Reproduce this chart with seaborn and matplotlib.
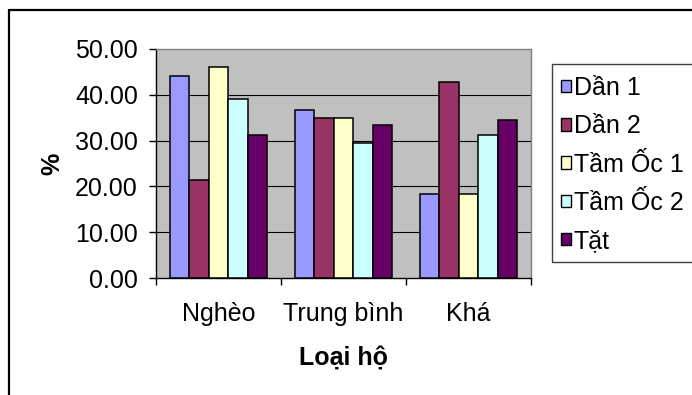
import matplotlib
matplotlib.use("Agg")
import matplotlib.pyplot as plt
from matplotlib.lines import Line2D
from matplotlib.patches import Rectangle
import numpy as np
import pandas as pd
import seaborn as sns

# Household groups and survey shares (%) per group
categories = ["Nghèo", "Trung bình", "Khá"]
series_names = ["Dần 1", "Dần 2", "Tầm Ốc 1", "Tầm Ốc 2", "Tặt"]
dan_1 = [44.1, 36.7, 18.3]
dan_2 = [21.5, 35.0, 42.8]
tam_oc_1 = [46.1, 35.0, 18.3]
tam_oc_2 = [39.1, 29.5, 31.3]
tat = [31.3, 33.3, 34.6]
y_ticks = [0, 10, 20, 30, 40, 50]
colors = ["#9999FF", "#993366", "#FFFFCC", "#CCFFFF", "#660066"]

values = [dan_1, dan_2, tam_oc_1, tam_oc_2, tat]
df = pd.DataFrame(
    [(cat, name, vals[i]) for name, vals in zip(series_names, values)
     for i, cat in enumerate(categories)],
    columns=["Loại hộ", "Giống", "%"],
)

sns.set_theme(style="white")
plt.rcParams["font.family"] = ["Liberation Sans", "DejaVu Sans"]
for key in ["text.color", "axes.labelcolor", "xtick.color", "ytick.color"]:
    plt.rcParams[key] = "black"

FS = 18
W, H = 692, 395
fig = plt.figure(figsize=(W / 100, H / 100), dpi=100)
fig.patch.set_facecolor("white")

# plot area in pixel coordinates
px_left, px_right, px_top, px_bottom = 156, 531, 49, 278
ax = fig.add_axes([px_left / W, 1 - px_bottom / H,
                   (px_right - px_left) / W, (px_bottom - px_top) / H])
ax.set_facecolor("#C0C0C0")

sns.barplot(data=df, x="Loại hộ", y="%", hue="Giống", order=categories,
            hue_order=series_names, palette=colors, width=0.78,
            edgecolor="black", linewidth=1.1, saturation=1, ax=ax,
            legend=False, zorder=3)

ax.set_ylim(y_ticks[0], y_ticks[-1])
ax.set_xlim(-0.5, len(categories) - 0.5)
ax.set_yticks(y_ticks)
ax.set_yticklabels([f"{v:.2f}" for v in y_ticks])
for v in y_ticks[1:-1]:
    ax.axhline(v, color="black", lw=0.8, zorder=1)

# category boundaries carry the ticks, names sit between them
ax.set_xticks(np.arange(len(categories) + 1) - 0.5)
ax.set_xticklabels([])
ax.set_xticks(np.arange(len(categories)), minor=True)
ax.set_xticklabels(categories, minor=True)
ax.tick_params(axis="x", which="major", direction="out", length=5, width=1,
               color="black", bottom=True)
ax.tick_params(axis="x", which="minor", length=0, pad=17, labelsize=FS)
ax.tick_params(axis="y", direction="out", length=5, width=1, color="black",
               left=True, pad=8, labelsize=FS)

for side in ["left", "bottom"]:
    ax.spines[side].set_color("black")
    ax.spines[side].set_linewidth(1)
for side in ["top", "right"]:
    ax.spines[side].set_color("#808080")
    ax.spines[side].set_linewidth(1)

ax.set_xlabel("Loại hộ", fontsize=FS, fontweight="bold")
ax.set_ylabel("%", fontsize=FS, fontweight="bold")
ax.xaxis.set_label_coords(0.5, (px_bottom - 358) / (px_bottom - px_top))
ax.yaxis.set_label_coords((52 - px_left) / (px_right - px_left), 0.5)
ax.xaxis.label.set_va("center")
ax.yaxis.label.set_va("center")

# legend with square swatches
handles = [Rectangle((0, 0), 1, 1, facecolor=c, edgecolor="black", lw=1)
           for c in colors]
fig.legend(handles, series_names, loc="upper left",
           bbox_to_anchor=(561 / W, 1 - 76 / H), frameon=False,
           fontsize=FS, handlelength=0.4, handleheight=0.4,
           handletextpad=0.12, labelspacing=0.57, borderpad=0,
           borderaxespad=0)
fig.add_artist(Rectangle((551.5 / W, 1 - 262 / H), 160 / W, 198 / H,
                         transform=fig.transFigure, facecolor="none",
                         edgecolor="#404040", lw=1))

# chart frame
fig.add_artist(Line2D([8.5 / W, 1.0], [1 - 10 / H, 1 - 10 / H],
                      transform=fig.transFigure, color="black", lw=1.6))
fig.add_artist(Line2D([8.5 / W, 8.5 / W], [1 - 10 / H, 0.0],
                      transform=fig.transFigure, color="black", lw=1.6))

fig.savefig("out.png", dpi=100)
